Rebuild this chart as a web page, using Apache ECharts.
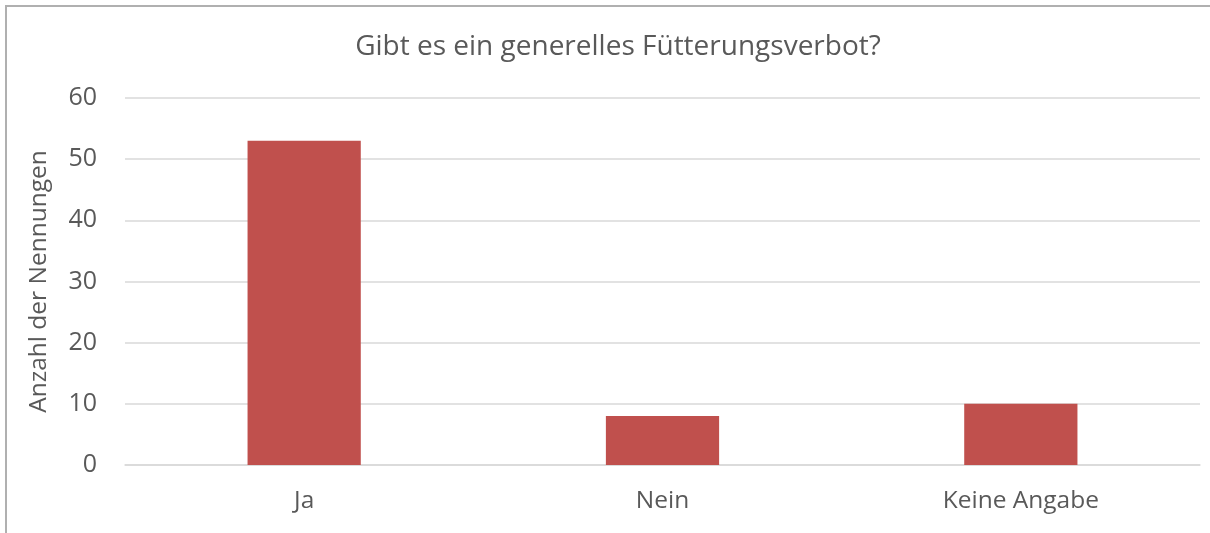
<!DOCTYPE html>
<html>
<head>
    <meta charset="utf-8">
    <title>Fütterungsverbot</title>
    <script src="https://cdn.jsdelivr.net/npm/echarts@6/dist/echarts.min.js"></script>
    <style>
    *{margin:0px; padding:0px;}
    body{background:#fff;}
    #wrap{position:relative; width:1210px; height:533px; overflow:hidden;}
    #main{position:absolute; left:0; top:0; width:1210px; height:533px;}
    #frame{position:absolute; left:5px; top:5px; width:1300px; height:600px; border:2px solid #b0b0b0; pointer-events:none;}
    </style>
</head>
<body>
    <div id="wrap">
        <div id="main"></div>
        <div id="frame"></div>
    </div>
    <script type="text/javascript">
        var categories = ['Ja', 'Nein', 'Keine Angabe'];
        var counts = [53, 8, 10];
        var yTicks = [0, 10, 20, 30, 40, 50, 60];

        var font = '"Open Sans", sans-serif';
        var myChart = echarts.init(document.getElementById('main'));

        var option = {
            animation: false,
            backgroundColor: '#fff',
            title: {
                text: 'Gibt es ein generelles Fütterungsverbot?',
                left: 613,
                textAlign: 'center',
                top: 28,
                textStyle: {
                    fontFamily: font,
                    fontSize: 28,
                    fontWeight: 'normal',
                    color: '#595959'
                }
            },
            grid: {
                left: 125,
                right: 10,
                top: 98,
                bottom: 68
            },
            xAxis: {
                type: 'category',
                data: categories,
                axisTick: {show: false},
                axisLine: {lineStyle: {color: '#d9d9d9', width: 1.5}},
                axisLabel: {
                    margin: 24,
                    fontFamily: font,
                    fontSize: 24.5,
                    color: '#595959'
                }
            },
            yAxis: {
                type: 'value',
                min: yTicks[0],
                max: yTicks[yTicks.length - 1],
                interval: 10,
                name: 'Anzahl der Nennungen',
                nameLocation: 'middle',
                nameGap: 73,
                nameTextStyle: {
                    fontFamily: font,
                    fontSize: 24.5,
                    color: '#595959'
                },
                axisLine: {show: false},
                axisTick: {show: false},
                axisLabel: {
                    margin: 28,
                    fontFamily: font,
                    fontSize: 25,
                    color: '#595959'
                },
                splitLine: {lineStyle: {color: '#d9d9d9', width: 1.5}}
            },
            series: [{
                type: 'bar',
                data: counts,
                barWidth: '31.6%',
                itemStyle: {color: '#c0504d'}
            }]
        };

        myChart.setOption(option);
    </script>
</body>
</html>
